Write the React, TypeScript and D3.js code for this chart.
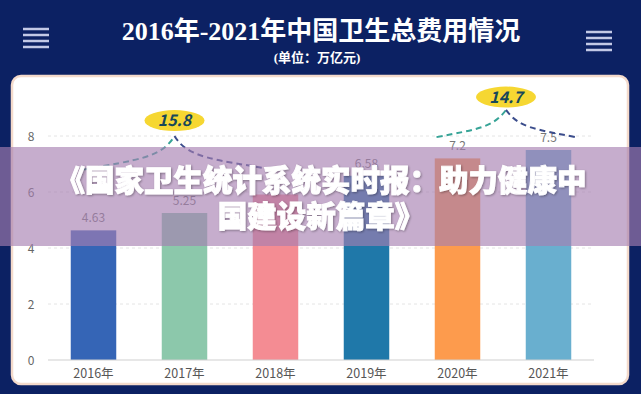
import { useEffect, useRef } from "react";
import * as d3 from "d3";

const years = ["2016年", "2017年", "2018年", "2019年", "2020年", "2021年"];
const values = [4.63, 5.25, 5.91, 6.58, 7.2, 7.5];
const barColors = ["#3565b6", "#8cc8ab", "#f48c93", "#1f78a9", "#fd9b4d", "#69afcf"];
const yTicks = [0, 2, 4, 6, 8];
const hiddenLabels = ["2018年"]; // label hidden under the banner in the picture

// bracket annotations: label, left/right year, y values (data units)
const braces = [
  { label: "15.8", from: "2016年", to: "2018年", fromDx: -10, toDx: -2, peakDx: -10, peakYear: "2017年", endY: 6.8, peakY: 8.0, badgeY: 8.55 },
  { label: "14.7", from: "2020年", to: "2021年", fromDx: -21, toDx: 27, peakDx: 3, peakYear: null, endY: 7.96, peakY: 8.93, badgeY: 9.39 },
];

const bannerLines = ["《国家卫生统计系统实时报：助力健康中", "国建设新篇章》"];

const App = () => {
  const svgRef = useRef<SVGSVGElement>(null);
  const width = 641;
  const height = 394;
  const margin = { left: 48, right: 47, top: 136, bottom: 34 };

  useEffect(() => {
    const svg = d3.select(svgRef.current);
    svg.selectAll("*").remove();

    const defs = svg.append("defs");
    const f = defs.append("filter").attr("id", "tshadow").attr("x", "-10%").attr("y", "-30%").attr("width", "120%").attr("height", "160%");
    f.append("feDropShadow").attr("dx", 1).attr("dy", 1).attr("stdDeviation", 1.2).attr("flood-color", "#000").attr("flood-opacity", 0.35);

    // background
    svg.append("rect").attr("width", width).attr("height", height).attr("fill", "#0c2163");

    // hamburgers
    const burger = (x: number, y: number) => {
      [0, 6, 12, 18].forEach((dy) => {
        svg.append("line")
          .attr("x1", x).attr("x2", x + 26)
          .attr("y1", y + dy).attr("y2", y + dy)
          .attr("stroke", "#c3c9e6").attr("stroke-width", 2.5);
      });
    };
    burger(23, 29);
    burger(586, 32);

    // titles
    svg.append("text")
      .attr("x", 321).attr("y", 40)
      .attr("text-anchor", "middle")
      .attr("fill", "#fff")
      .attr("font-family", "'Liberation Serif', 'Noto Sans CJK SC', serif")
      .attr("font-weight", "bold")
      .attr("font-size", 26)
      .text("2016年-2021年中国卫生总费用情况");
    svg.append("text")
      .attr("x", 317).attr("y", 62)
      .attr("text-anchor", "middle")
      .attr("fill", "#fff")
      .attr("font-family", "'Liberation Serif', 'Noto Sans CJK SC', serif")
      .attr("font-weight", "bold")
      .attr("font-size", 13)
      .text("(单位：万亿元)");

    // card
    svg.append("rect")
      .attr("x", 12).attr("y", 76).attr("width", 616).attr("height", 308)
      .attr("rx", 9)
      .attr("fill", "#fff")
      .attr("stroke", "#f4dacb").attr("stroke-width", 2.5);

    const x = d3.scaleBand()
      .domain(years)
      .range([margin.left, width - margin.right])
      .paddingInner(0.5)
      .paddingOuter(0.25);
    const y = d3.scaleLinear().domain([0, 8]).range([height - margin.bottom, margin.top]);

    const g = svg.append("g").attr("font-family", "'Noto Sans CJK SC', 'Open Sans', sans-serif");

    // grid lines
    g.selectAll(".grid")
      .data(yTicks.filter((t) => t > 0))
      .enter()
      .append("line")
      .attr("x1", margin.left).attr("x2", width - margin.right)
      .attr("y1", (d) => y(d)).attr("y2", (d) => y(d))
      .attr("stroke", "#e4e4e4")
      .attr("stroke-dasharray", "3,3");

    // y tick labels
    g.selectAll(".ytick")
      .data(yTicks)
      .enter()
      .append("text")
      .attr("x", 31).attr("y", (d) => y(d) + 4.5)
      .attr("text-anchor", "middle")
      .attr("font-size", 12)
      .attr("fill", "#666")
      .text((d) => d);

    // bars
    g.selectAll(".bar")
      .data(values)
      .enter()
      .append("rect")
      .attr("x", (_, i) => x(years[i])!)
      .attr("y", (d) => y(d))
      .attr("width", x.bandwidth())
      .attr("height", (d) => y(0) - y(d))
      .attr("fill", (_, i) => barColors[i]);

    // value labels
    g.selectAll(".vlabel")
      .data(values)
      .enter()
      .append("text")
      .attr("x", (_, i) => x(years[i])! + x.bandwidth() / 2)
      .attr("y", (d) => y(d) - 8)
      .attr("text-anchor", "middle")
      .attr("font-size", 12)
      .attr("fill", "#777")
      .text((d, i) => (hiddenLabels.includes(years[i]) ? "" : String(d)));

    // axis line
    g.append("line")
      .attr("x1", margin.left).attr("x2", width - margin.right)
      .attr("y1", y(0)).attr("y2", y(0))
      .attr("stroke", "#cfcfcf").attr("stroke-width", 1);

    // x labels
    g.selectAll(".xlabel")
      .data(years)
      .enter()
      .append("text")
      .attr("x", (d) => x(d)! + x.bandwidth() / 2)
      .attr("y", y(0) + 18)
      .attr("text-anchor", "middle")
      .attr("font-size", 12.5)
      .attr("fill", "#555")
      .text((d) => d);

    // braces + badges
    const cx = (yr: string) => x(yr)! + x.bandwidth() / 2;
    braces.forEach((b) => {
      const x0 = cx(b.from) + b.fromDx;
      const x1 = cx(b.to) + b.toDx;
      const px = (b.peakYear ? cx(b.peakYear) : (cx(b.from) + cx(b.to)) / 2) + b.peakDx;
      const y0 = y(b.endY);
      const py = y(b.peakY);
      const left = d3.path();
      left.moveTo(x0, y0);
      left.bezierCurveTo(x0 + (px - x0) * 0.6, y0 - (y0 - py) * 0.3, px - 13, y0 - (y0 - py) * 0.35, px, py);
      const right = d3.path();
      right.moveTo(px, py);
      right.bezierCurveTo(px + 13, y0 - (y0 - py) * 0.35, x1 - (x1 - px) * 0.6, y0 - (y0 - py) * 0.3, x1, y0);
      g.append("path").attr("d", left.toString())
        .attr("fill", "none").attr("stroke", "#37a497").attr("stroke-width", 2)
        .attr("stroke-dasharray", "6,4");
      g.append("path").attr("d", right.toString())
        .attr("fill", "none").attr("stroke", "#3b4d8c").attr("stroke-width", 2)
        .attr("stroke-dasharray", "6,4");
      const by = y(b.badgeY);
      g.append("ellipse")
        .attr("cx", px).attr("cy", by)
        .attr("rx", 30).attr("ry", 10.5)
        .attr("fill", "#f6d732");
      g.append("text")
        .attr("x", px).attr("y", by + 5.5)
        .attr("text-anchor", "middle")
        .attr("font-size", 16)
        .attr("font-weight", "bold")
        .attr("font-style", "italic")
        .attr("fill", "#17485a")
        .text(b.label);
    });

    // overlay banner
    svg.append("rect")
      .attr("x", 0).attr("y", 147).attr("width", width).attr("height", 99)
      .attr("fill", "rgba(166,127,176,0.64)");
    svg.selectAll(".banner")
      .data(bannerLines)
      .enter()
      .append("text")
      .attr("x", 321)
      .attr("y", (_, i) => 191 + i * 36)
      .attr("text-anchor", "middle")
      .attr("fill", "#fff")
      .attr("stroke", "#fff")
      .attr("stroke-width", 0.9)
      .attr("font-family", "'Noto Sans CJK SC', sans-serif")
      .attr("font-weight", 900)
      .attr("font-size", 29.5)
      .attr("filter", "url(#tshadow)")
      .text((d) => d);
  }, []);

  return (
    <svg
      ref={svgRef}
      width={width}
      height={height}
      style={{ position: "absolute", left: 0, top: 0, display: "block" }}
    />
  );
};

export default App;
